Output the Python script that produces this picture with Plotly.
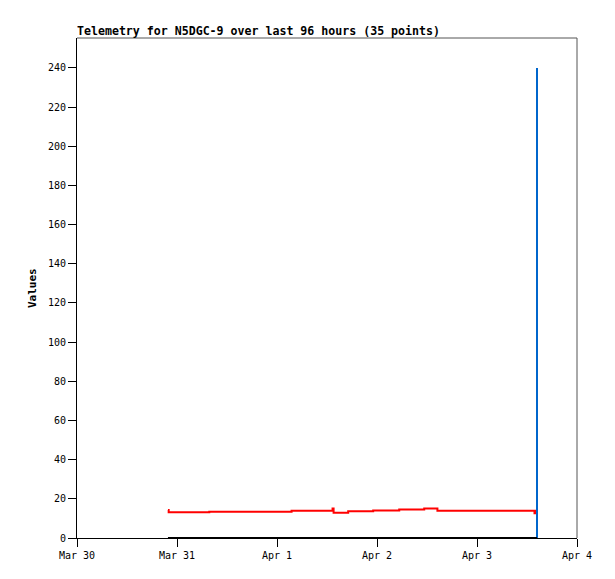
import plotly.graph_objects as go

# ---- data ----
times = [
    "2025-03-30 21:50", "2025-03-30 22:00", "2025-03-31 01:00", "2025-03-31 04:30",
    "2025-03-31 07:45", "2025-03-31 10:30", "2025-03-31 13:30", "2025-03-31 16:30",
    "2025-03-31 19:30", "2025-03-31 22:30", "2025-04-01 03:30", "2025-04-01 06:30",
    "2025-04-01 09:30", "2025-04-01 13:20", "2025-04-01 13:35", "2025-04-01 17:05",
    "2025-04-01 20:00", "2025-04-01 23:05", "2025-04-02 02:00", "2025-04-02 05:20",
    "2025-04-02 08:30", "2025-04-02 11:20", "2025-04-02 14:30", "2025-04-02 17:30",
    "2025-04-02 20:30", "2025-04-02 23:30", "2025-04-03 02:30", "2025-04-03 05:00",
    "2025-04-03 07:30", "2025-04-03 10:00", "2025-04-03 12:30", "2025-04-03 13:48",
    "2025-04-03 14:10", "2025-04-03 14:20", "2025-04-03 14:24",
]
voltage = [
    14.3, 13.1, 13.1, 13.1,
    13.4, 13.4, 13.4, 13.4,
    13.4, 13.4, 13.9, 13.9,
    13.9, 15.0, 12.9, 13.6,
    13.6, 14.0, 14.0, 14.5,
    14.5, 15.0, 13.9, 13.9,
    13.9, 13.9, 13.9, 13.9,
    13.9, 13.9, 13.9, 12.6,
    13.9, 13.9, 13.9,
]
zero_series = [0] * 35
spike_series = [0] * 34 + [240]

tick_dates = ["2025-03-30", "2025-03-31", "2025-04-01", "2025-04-02", "2025-04-03", "2025-04-04"]
tick_labels = ["Mar 30", "Mar 31", "Apr 1", "Apr 2", "Apr 3", "Apr 4"]
y_ticks = [0, 20, 40, 60, 80, 100, 120, 140, 160, 180, 200, 220, 240]

MONO = "DejaVu Sans Mono"

# page has an 8px body margin, so the figure is offset by (8, 8)
W, H = 607, 571

fig = go.Figure()
fig.add_trace(go.Scatter(x=times, y=voltage, mode="lines", line=dict(color="#ff0000", width=2, shape="hv"),
                         name="voltage", showlegend=False))
fig.add_trace(go.Scatter(x=times, y=spike_series, mode="lines", line=dict(color="#0066cc", width=2, shape="hv"),
                         name="spike", showlegend=False))
fig.add_trace(go.Scatter(x=times, y=zero_series, mode="lines", line=dict(color="#000000", width=2, shape="hv"),
                         name="zero", showlegend=False))

fig.update_layout(
    width=W, height=H,
    margin=dict(l=69, r=38, t=30, b=41),
    paper_bgcolor="white", plot_bgcolor="white",
    font=dict(family=MONO, size=10, color="#000000"),
    title=dict(text="<b>Telemetry for N5DGC-9 over last 96 hours (35 points)</b>",
               x=69 / W, xref="container", xanchor="left",
               y=1 - 23 / H, yref="container", yanchor="middle",
               font=dict(family=MONO, size=11.6, color="#000000")),
    xaxis=dict(type="date", range=["2025-03-30", "2025-04-04"], tickvals=tick_dates, ticktext=tick_labels,
               showgrid=False, zeroline=False, showline=True, linecolor="#000000", linewidth=1,
               ticks="outside", ticklen=8, tickcolor="#000000", tickfont=dict(family=MONO, size=10)),
    yaxis=dict(range=[0, 255.3], tickvals=y_ticks, showgrid=False, zeroline=False, showline=True,
               linecolor="#000000", linewidth=1, ticks="outside", ticklen=8, tickcolor="#000000",
               tickfont=dict(family=MONO, size=10)),
    annotations=[dict(text="<b>Values</b>", xref="paper", yref="paper", x=-0.09, y=0.5,
                      xanchor="center", yanchor="middle", textangle=-90, showarrow=False,
                      font=dict(family=MONO, size=11, color="#000000"))],
    shapes=[
        dict(type="line", xref="paper", yref="paper", x0=0, x1=1, y0=1, y1=1, line=dict(color="#555555", width=1)),
        dict(type="line", xref="paper", yref="paper", x0=1, x1=1, y0=0, y1=1, line=dict(color="#555555", width=1)),
    ],
)

fig.write_html("out.html")
